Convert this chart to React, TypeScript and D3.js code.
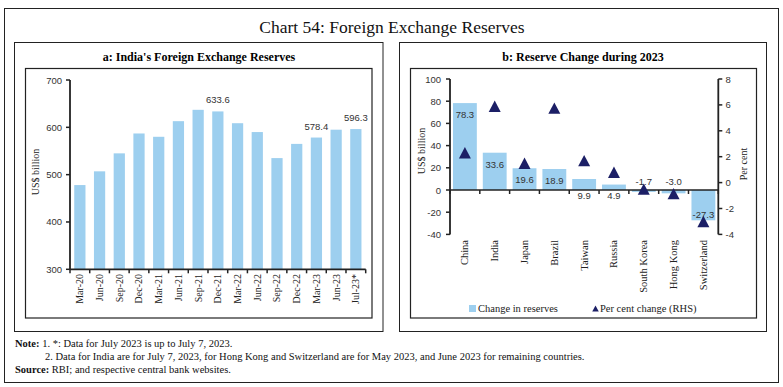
import React from "react";
import * as d3 from "d3";

const categoriesA = ["Mar-20","Jun-20","Sep-20","Dec-20","Mar-21","Jun-21","Sep-21","Dec-21","Mar-22","Jun-22","Sep-22","Dec-22","Mar-23","Jun-23","Jul-23*"];
const reservesA = [478, 507, 545, 587, 580, 613, 637, 633.6, 608.7, 590, 535, 565, 578.4, 595, 596.3];
const labelledA = ["Dec-21", "Mar-23", "Jul-23*"];
const ticksA = [300, 400, 500, 600, 700];

const countriesB = ["China","India","Japan","Brazil","Taiwan","Russia","South Korea","Hong Kong","Switzerland"];
const changeB = [78.3, 33.6, 19.6, 18.9, 9.9, 4.9, -1.7, -3.0, -27.3];
const pctB = [2.3, 5.9, 1.5, 5.75, 1.7, 0.8, -0.5, -0.85, -3.0];
const ticksBL = [-40, -20, 0, 20, 40, 60, 80, 100];
const ticksBR = [-4, -2, 0, 2, 4, 6, 8];

const BAR = "#9dcfef";
const NAVY = "#1c1f66";
const SERIF = "'Liberation Serif', 'DejaVu Serif', serif";
const SANS = "'Liberation Sans', Arial, sans-serif";

function tri(cx: number, cy: number, w: number) {
  const h = w * 0.95;
  return `M${cx},${cy - h / 2}L${cx + w / 2},${cy + h / 2}L${cx - w / 2},${cy + h / 2}Z`;
}

function PanelA() {
  const x = d3.scaleBand<string>().domain(categoriesA).range([70, 365.7]).paddingInner(0.43).paddingOuter(0.215);
  const y = d3.scaleLinear().domain([300, 700]).range([269.3, 80]);
  const x0 = x.range()[0];
  const bounds = d3.range(categoriesA.length + 1).map((i) => x0 + i * (365.7 - 70) / categoriesA.length);
  return (
    <g>
      <rect x={14.5} y={42.5} width={368.5} height={289} fill="none" stroke="#222" strokeWidth={1} />
      <text x={199} y={61} textAnchor="middle" fontFamily={SERIF} fontWeight="bold" fontSize={12}>a: India's Foreign Exchange Reserves</text>
      <rect x={25.5} y={68.5} width={346.5} height={249.5} fill="none" stroke="#222" strokeWidth={1.2} />
      {categoriesA.map((c, i) => (
        <rect key={c} x={x(c)} y={y(reservesA[i])} width={x.bandwidth()} height={y(300) - y(reservesA[i])} fill={BAR} />
      ))}
      {categoriesA.map((c, i) =>
        labelledA.includes(c) ? (
          <text key={"l" + c} x={x(c)! + x.bandwidth() / 2} y={y(reservesA[i]) - 8} textAnchor="middle" fontFamily={SANS} fontSize={9.5} fill="#333">
            {reservesA[i].toFixed(1)}
          </text>
        ) : null
      )}
      <line x1={70} x2={70} y1={y(700)} y2={y(300)} stroke="#222" strokeWidth={1.8} />
      <line x1={70} x2={365.7} y1={y(300)} y2={y(300)} stroke="#222" strokeWidth={1.8} />
      {ticksA.map((t) => (
        <g key={t}>
          <line x1={66} x2={70} y1={y(t)} y2={y(t)} stroke="#222" strokeWidth={1.5} />
          <text x={62} y={y(t) + 3.5} textAnchor="end" fontFamily={SANS} fontSize={9.5} fill="#333">{t}</text>
        </g>
      ))}
      {bounds.map((b, i) => (
        <line key={i} x1={b} x2={b} y1={y(300)} y2={y(300) + 4} stroke="#222" strokeWidth={1.5} />
      ))}
      {categoriesA.map((c) => (
        <text key={"t" + c} transform={`translate(${x(c)! + x.bandwidth() / 2 + 3.5},274) rotate(-90)`} textAnchor="end" fontFamily={SERIF} fontSize={10} fill="#222">
          {c}
        </text>
      ))}
      <text transform={`translate(39,172) rotate(-90)`} textAnchor="middle" fontFamily={SERIF} fontSize={10} fill="#222">US$ billion</text>
    </g>
  );
}

function PanelB() {
  const x = d3.scaleBand<string>().domain(countriesB).range([450, 718.3]).paddingInner(0.2).paddingOuter(0.1);
  const yL = d3.scaleLinear().domain([-40, 100]).range([234.4, 79]);
  const yR = d3.scaleLinear().domain([-4, 8]).range([234.4, 79]);
  const bounds = d3.range(countriesB.length + 1).map((i) => 450 + i * (718.3 - 450) / countriesB.length);
  const labelY = (v: number) => {
    if (v > 15) return yL(v) + 15;
    if (v > 0) return yL(0) + 9;
    if (v > -5) return yL(0) - 5;
    return yL(v) - 2;
  };
  return (
    <g>
      <rect x={399.5} y={42.5} width={367} height={289} fill="none" stroke="#222" strokeWidth={1} />
      <text x={583} y={61} textAnchor="middle" fontFamily={SERIF} fontWeight="bold" fontSize={12}>b: Reserve Change during 2023</text>
      <rect x={410.5} y={68.5} width={346} height={249.5} fill="none" stroke="#222" strokeWidth={1.2} />
      {countriesB.map((c, i) => {
        const v = changeB[i];
        return <rect key={c} x={x(c)} y={Math.min(yL(v), yL(0))} width={x.bandwidth()} height={Math.abs(yL(v) - yL(0))} fill={BAR} />;
      })}
      <line x1={450} x2={718.3} y1={yL(0)} y2={yL(0)} stroke="#222" strokeWidth={1.5} />
      {bounds.map((b, i) => (
        <line key={i} x1={b} x2={b} y1={yL(0)} y2={yL(0) + 4} stroke="#222" strokeWidth={1.5} />
      ))}
      {countriesB.map((c, i) => (
        <text key={"l" + c} x={x(c)! + x.bandwidth() / 2} y={labelY(changeB[i])} textAnchor="middle" fontFamily={SANS} fontSize={9.5} fill="#333">
          {changeB[i].toFixed(1)}
        </text>
      ))}
      {countriesB.map((c, i) => (
        <path key={"p" + c} d={tri(x(c)! + x.bandwidth() / 2, yR(pctB[i]), 12)} fill={NAVY} />
      ))}
      <line x1={450} x2={450} y1={79} y2={234.4} stroke="#222" strokeWidth={1.8} />
      <line x1={718.3} x2={718.3} y1={79} y2={234.4} stroke="#222" strokeWidth={1.8} />
      {ticksBL.map((t) => (
        <g key={t}>
          <line x1={446} x2={450} y1={yL(t)} y2={yL(t)} stroke="#222" strokeWidth={1.5} />
          <text x={441} y={yL(t) + 3.5} textAnchor="end" fontFamily={SANS} fontSize={9.5} fill="#333">{t}</text>
        </g>
      ))}
      {ticksBR.map((t) => (
        <g key={t}>
          <line x1={718.3} x2={722.3} y1={yR(t)} y2={yR(t)} stroke="#222" strokeWidth={1.5} />
          <text x={725.5} y={yR(t) + 3.5} textAnchor="start" fontFamily={SANS} fontSize={9.5} fill="#333">{t}</text>
        </g>
      ))}
      {countriesB.map((c) => (
        <text key={"t" + c} transform={`translate(${x(c)! + x.bandwidth() / 2 + 3.5},240) rotate(-90)`} textAnchor="end" fontFamily={SERIF} fontSize={10.5} fill="#222">
          {c}
        </text>
      ))}
      <text transform={`translate(425,151) rotate(-90)`} textAnchor="middle" fontFamily={SERIF} fontSize={10} fill="#222">US$ billion</text>
      <text transform={`translate(747,164) rotate(-90)`} textAnchor="middle" fontFamily={SERIF} fontSize={10} fill="#222">Per cent</text>
      <rect x={469} y={305} width={7} height={7} fill={BAR} />
      <text x={478} y={312} fontFamily={SERIF} fontSize={10.5} fill="#222">Change in reserves</text>
      <path d={tri(595.5, 308.5, 6.5)} fill={NAVY} />
      <text x={600} y={312} fontFamily={SERIF} fontSize={10.5} fill="#222">Per cent change (RHS)</text>
    </g>
  );
}

export default function App() {
  return (
    <svg width={783} height={387} style={{ position: "absolute", left: 0, top: 0, background: "#fff" }}>
      <rect x={0} y={0} width={783} height={387} fill="#fff" />
      <rect x={4.5} y={8.5} width={774} height={374} fill="none" stroke="#222" strokeWidth={1} />
      <text x={392} y={33} textAnchor="middle" fontFamily={SERIF} fontSize={17.5} fill="#111">Chart 54: Foreign Exchange Reserves</text>
      <PanelA />
      <PanelB />
      <text x={15} y={347} fontFamily={SERIF} fontSize={10.5} fill="#111">
        <tspan fontWeight="bold">Note:</tspan> 1. *: Data for July 2023 is up to July 7, 2023.
      </text>
      <text x={45} y={360} fontFamily={SERIF} fontSize={10.5} fill="#111">
        2. Data for India are for July 7, 2023, for Hong Kong and Switzerland are for May 2023,  and June 2023 for remaining countries.
      </text>
      <text x={15} y={373} fontFamily={SERIF} fontSize={10.5} fill="#111">
        <tspan fontWeight="bold">Source:</tspan> RBI; and respective central bank websites.
      </text>
    </svg>
  );
}
